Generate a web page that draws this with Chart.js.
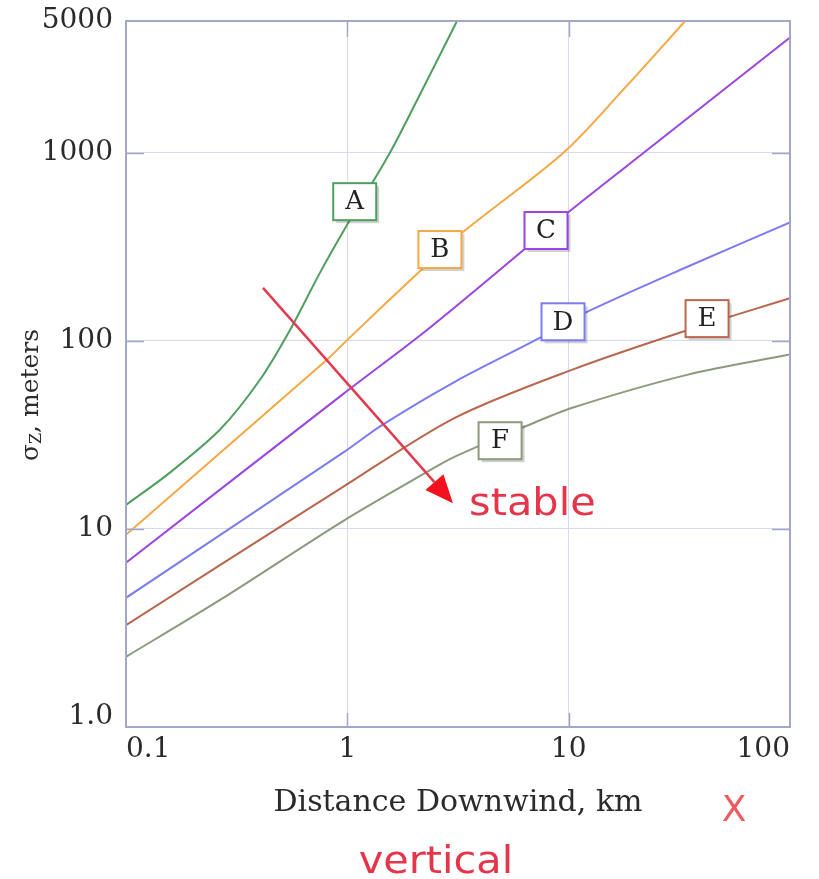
<!DOCTYPE html>
<html>
<head>
<meta charset="utf-8">
<script src="https://cdn.jsdelivr.net/npm/chart.js@4.4.1/dist/chart.umd.min.js"></script>
<style>
  html, body { margin: 0; padding: 0; background: #fff; }
  #wrap { width: 819px; height: 879px; }
</style>
</head>
<body>
<div id="wrap"><canvas id="sigma-chart" width="819" height="879"></canvas></div>
<script>
// axis ticks
const X_TICKS = [0.1, 1, 10, 100];
const X_TICK_LABELS = ["0.1", "1", "10", "100"];
const Y_TICKS = [1, 10, 100, 1000, 5000];
const Y_TICK_LABELS = ["1.0", "10", "100", "1000", "5000"];
const X_MIN = 0.1, X_MAX = 100, Y_MIN = 0.885, Y_MAX = 5000;

// sigma_z curves (km, m)
const classA_x = [0.1, 0.158, 0.266, 0.403, 0.551, 0.753, 1.03, 1.56, 2.22, 3.13];
const classA_y = [13.4, 19.9, 33.7, 62, 114, 230, 440, 1000, 2245, 5000];
const classB_x = [0.1, 0.809, 1.0, 2.24, 3.30, 9.5, 18.2, 33.6];
const classB_y = [9.3, 79.3, 101, 248, 375, 1000, 2245, 5000];
const classC_x = [0.1, 0.956, 2.29, 6.35, 9.93, 21.9, 100];
const classC_y = [6.6, 52, 114, 308, 480, 1000, 4090];
const classD_x = [0.1, 0.956, 1.44, 3.06, 7.59, 11.9, 34.6, 100];
const classD_y = [4.3, 25.4, 35.7, 60.5, 105, 141, 248, 425];
const classE_x = [0.1, 0.956, 3.06, 10.4, 34.6, 100];
const classE_y = [3.08, 16.7, 38.9, 70.2, 114, 168];
const classF_x = [0.1, 0.266, 0.956, 2.13, 3.06, 6.15, 10.4, 34.6, 100];
const classF_y = [2.09, 4.19, 11.0, 19.1, 24.2, 34.4, 44, 66, 84.4];

const CLASS_NAMES = ["A", "B", "C", "D", "E", "F"];
const CLASS_X = [classA_x, classB_x, classC_x, classD_x, classE_x, classF_x];
const CLASS_Y = [classA_y, classB_y, classC_y, classD_y, classE_y, classF_y];
const CLASS_COLORS = ["#4f9e5e", "#f5a845", "#9a45e0", "#7c7cf2", "#b8674e", "#8c9a7c"];

// where the class letters sit (data units)
const LABEL_X = [1.08, 2.62, 7.90, 9.43, 42.2, 4.90];
const LABEL_Y = [548, 305, 385, 126, 131, 29.4];

// stability arrow (data units)
const ARROW_FROM = [0.416, 191];
const ARROW_TO = [3.0, 13.7];
const STABLE_AT = [3.55, 13.4];

const TEXT = "#2b2b2b";
const GRID = "rgba(212, 216, 238, 0.95)";
const FRAME = "#a3a8c6";
const RED = "#e6354b";
const SERIF = "'DejaVu Serif', 'Liberation Serif', serif";
const SANS = "'DejaVu Sans', 'Liberation Sans', sans-serif";

const decor = {
  id: "decor",
  afterDatasetsDraw(chart) {
    const { ctx, scales: { x, y } } = chart;
    ctx.save();
    // class letter boxes
    const bw = 43, bh = 37;
    CLASS_NAMES.forEach((name, i) => {
      const cx = x.getPixelForValue(LABEL_X[i]);
      const cy = y.getPixelForValue(LABEL_Y[i]);
      ctx.fillStyle = "rgba(0,0,0,0.18)";
      ctx.fillRect(cx - bw / 2 + 3, cy - bh / 2 + 3, bw, bh);
      ctx.fillStyle = "#fff";
      ctx.fillRect(cx - bw / 2, cy - bh / 2, bw, bh);
      ctx.strokeStyle = CLASS_COLORS[i];
      ctx.lineWidth = 2;
      ctx.strokeRect(cx - bw / 2, cy - bh / 2, bw, bh);
      ctx.fillStyle = "#222";
      ctx.font = "26px " + SERIF;
      ctx.textAlign = "center";
      ctx.textBaseline = "middle";
      ctx.fillText(name, cx, cy + 1);
    });
    // arrow
    const x0 = x.getPixelForValue(ARROW_FROM[0]), y0 = y.getPixelForValue(ARROW_FROM[1]);
    const x1 = x.getPixelForValue(ARROW_TO[0]), y1 = y.getPixelForValue(ARROW_TO[1]);
    const ang = Math.atan2(y1 - y0, x1 - x0);
    const hl = 28, hw = 12;
    const bx = x1 - hl * Math.cos(ang), by = y1 - hl * Math.sin(ang);
    ctx.strokeStyle = "#e23b4f";
    ctx.lineWidth = 2.5;
    ctx.beginPath();
    ctx.moveTo(x0, y0);
    ctx.lineTo(bx, by);
    ctx.stroke();
    ctx.fillStyle = "#f2121e";
    ctx.beginPath();
    ctx.moveTo(x1, y1);
    ctx.lineTo(bx + hw * Math.sin(ang), by - hw * Math.cos(ang));
    ctx.lineTo(bx - hw * Math.sin(ang), by + hw * Math.cos(ang));
    ctx.closePath();
    ctx.fill();
    // "stable"
    ctx.save();
    ctx.translate(x.getPixelForValue(STABLE_AT[0]), y.getPixelForValue(STABLE_AT[1]));
    ctx.scale(1.12, 1);
    ctx.fillStyle = RED;
    ctx.font = "37px " + SANS;
    ctx.textAlign = "left";
    ctx.textBaseline = "middle";
    ctx.fillText("stable", 0, 0);
    ctx.restore();
    ctx.restore();
  },
  afterDraw(chart) {
    const { ctx, chartArea: a, scales: { x, y } } = chart;
    ctx.save();
    // frame
    ctx.strokeStyle = FRAME;
    ctx.lineWidth = 2;
    ctx.strokeRect(a.left, a.top, a.right - a.left, a.bottom - a.top);
    // inner tick marks
    ctx.lineWidth = 1.5;
    ctx.beginPath();
    [10, 100, 1000].forEach((v) => {
      const py = Math.round(y.getPixelForValue(v)) + 0.5;
      ctx.moveTo(a.left, py); ctx.lineTo(a.left + 18, py);
      ctx.moveTo(a.right, py); ctx.lineTo(a.right - 18, py);
    });
    [1, 10].forEach((v) => {
      const px = Math.round(x.getPixelForValue(v)) + 0.5;
      ctx.moveTo(px, a.bottom); ctx.lineTo(px, a.bottom - 14);
      ctx.moveTo(px, a.top); ctx.lineTo(px, a.top + 16);
    });
    ctx.stroke();
    // y title with subscript
    ctx.translate(31, 395);
    ctx.rotate(-Math.PI / 2);
    ctx.fillStyle = TEXT;
    ctx.textBaseline = "middle";
    ctx.textAlign = "left";
    const big = "25px " + SERIF, small = "16px " + SERIF;
    ctx.font = big;
    const wS = ctx.measureText("σ").width, wR = ctx.measureText(", meters").width;
    ctx.font = small;
    const wZ = ctx.measureText("Z").width;
    let sx = -(wS + wZ + wR) / 2;
    ctx.font = big; ctx.fillText("σ", sx, 0);
    ctx.font = small; ctx.fillText("Z", sx + wS, 6);
    ctx.font = big; ctx.fillText(", meters", sx + wS + wZ, 0);
    ctx.restore();
    // red notes below the axis
    ctx.save();
    ctx.fillStyle = RED;
    ctx.textBaseline = "alphabetic";
    ctx.textAlign = "center";
    ctx.translate(436, 873);
    ctx.scale(1.12, 1);
    ctx.font = "37px " + SANS;
    ctx.fillText("vertical", 0, 0);
    ctx.restore();
    ctx.save();
    ctx.fillStyle = "#ee5a5e";
    ctx.textAlign = "center";
    ctx.textBaseline = "middle";
    ctx.font = "36px " + SANS;
    ctx.fillText("X", 734, 812);
    ctx.restore();
  },
};

new Chart(document.getElementById("sigma-chart"), {
  type: "line",
  data: {
    datasets: CLASS_NAMES.map((name, i) => ({
      label: name,
      data: CLASS_X[i].map((v, j) => ({ x: v, y: CLASS_Y[i][j] })),
      borderColor: CLASS_COLORS[i],
      borderWidth: 2,
      pointRadius: 0,
      fill: false,
      tension: 0.3,
    })),
  },
  options: {
    responsive: false,
    devicePixelRatio: 1,
    animation: false,
    layout: { padding: { left: 40, right: 29, top: 21, bottom: 0 } },
    plugins: { legend: { display: false }, tooltip: { enabled: false } },
    scales: {
      x: {
        type: "logarithmic",
        min: X_MIN,
        max: X_MAX,
        afterBuildTicks: (axis) => { axis.ticks = X_TICKS.map((v) => ({ value: v })); },
        afterFit: (axis) => { axis.height = 152; axis.paddingLeft = 0; axis.paddingRight = 0; },
        grid: {
          color: (c) => (c.tick && (c.tick.value === 1 || c.tick.value === 10) ? GRID : "rgba(0,0,0,0)"),
          drawTicks: false,
        },
        border: { display: false },
        ticks: {
          autoSkip: false,
          maxRotation: 0,
          align: "inner",
          padding: 6,
          color: TEXT,
          font: { family: SERIF, size: 28 },
          callback: (v, i) => X_TICK_LABELS[i],
        },
        title: {
          display: true,
          text: "Distance Downwind, km",
          color: TEXT,
          font: { family: SERIF, size: 30 },
          padding: { top: 0, bottom: 58 },
        },
      },
      y: {
        type: "logarithmic",
        min: Y_MIN,
        max: Y_MAX,
        afterBuildTicks: (axis) => { axis.ticks = Y_TICKS.map((v) => ({ value: v })); },
        afterFit: (axis) => { axis.width = 86; axis.paddingTop = 0; axis.paddingBottom = 0; },
        grid: {
          color: (c) => (c.tick && [10, 100, 1000].includes(c.tick.value) ? GRID : "rgba(0,0,0,0)"),
          drawTicks: false,
        },
        border: { display: false },
        ticks: {
          autoSkip: false,
          padding: 13,
          color: TEXT,
          font: { family: SERIF, size: 28 },
          callback: (v, i) => Y_TICK_LABELS[i],
        },
      },
    },
  },
  plugins: [decor],
});
</script>
</body>
</html>
